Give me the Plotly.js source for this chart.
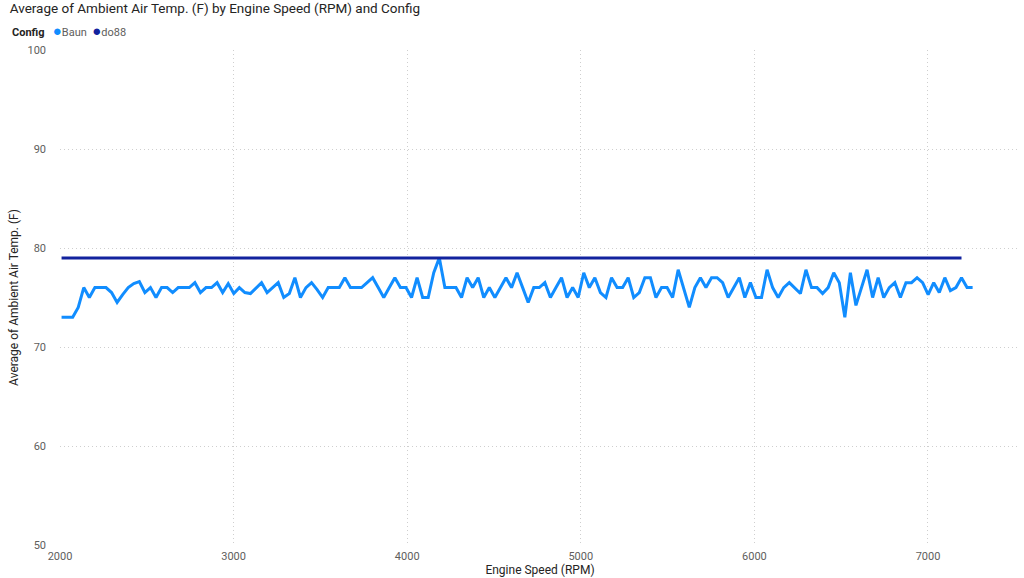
<!DOCTYPE html>
<html>
<head>
<meta charset="utf-8">
<script src="https://cdn.plot.ly/plotly-3.0.1.min.js"></script>
<style>
  html, body { margin: 0; padding: 0; background: #ffffff; }
  #chart { width: 1024px; height: 578px; }
</style>
</head>
<body>
<div id="chart"></div>
<script>
// Engine speed (RPM) for the Baun series
const baunRpm = [
  2009, 2041, 2073, 2105, 2137, 2169, 2201, 2233, 2265, 2297,
  2329, 2361, 2393, 2425, 2457, 2489, 2521, 2553, 2585, 2617,
  2649, 2681, 2713, 2745, 2777, 2809, 2841, 2873, 2905, 2937,
  2969, 3001, 3033, 3065, 3097, 3129, 3161, 3193, 3225, 3257,
  3289, 3321, 3353, 3385, 3417, 3449, 3481, 3513, 3545, 3577,
  3609, 3641, 3673, 3705, 3737, 3769, 3801, 3833, 3865, 3897,
  3929, 3961, 3993, 4025, 4057, 4089, 4121, 4153, 4185, 4217,
  4249, 4281, 4313, 4345, 4377, 4409, 4441, 4473, 4505, 4537,
  4569, 4601, 4633, 4665, 4697, 4729, 4761, 4793, 4825, 4857,
  4889, 4921, 4953, 4985, 5017, 5049, 5081, 5113, 5145, 5177,
  5209, 5241, 5273, 5305, 5337, 5369, 5401, 5433, 5465, 5497,
  5529, 5561, 5593, 5625, 5657, 5689, 5721, 5753, 5785, 5817,
  5849, 5881, 5913, 5945, 5977, 6009, 6041, 6073, 6105, 6137,
  6169, 6201, 6233, 6265, 6297, 6329, 6361, 6393, 6425, 6457,
  6489, 6521, 6553, 6585, 6617, 6649, 6681, 6713, 6745, 6777,
  6809, 6841, 6873, 6905, 6937, 6969, 7001, 7033, 7065, 7097,
  7129, 7161, 7193, 7225, 7257
];
// Average ambient air temp (F) for Baun
const baunTemp = [
  73, 73, 73, 74, 76, 75, 76, 76, 76, 75.5,
  74.5, 75.3, 76, 76.4, 76.6, 75.5, 76, 75, 76, 76,
  75.5, 76, 76, 76, 76.5, 75.5, 76, 76, 76.5, 75.5,
  76.4, 75.4, 76, 75.5, 75.4, 76, 76.5, 75.5, 76, 76.5,
  75, 75.4, 77, 75, 76, 76.5, 75.8, 75, 76, 76,
  76, 77, 76, 76, 76, 76.5, 77, 76, 75, 76,
  77, 76, 76, 75, 77, 75, 75, 77.5, 79, 76,
  76, 76, 75, 77, 76, 77, 75, 76, 75, 76,
  77, 76, 77.5, 76, 74.5, 76, 76, 76.5, 75, 76,
  77, 75, 76, 75, 77.5, 76, 77, 75.5, 75, 77,
  76, 76, 77, 75, 75.5, 77, 77, 75, 76, 76,
  75, 77.8, 76, 74, 76, 77, 76, 77, 77, 76.5,
  75, 76, 77, 75, 76.5, 75, 75, 77.8, 76, 75,
  76, 76.5, 76, 75.4, 77.8, 76, 76, 75.4, 76, 77.5,
  76.5, 73, 77.5, 74.2, 76, 77.8, 75, 77, 75, 76,
  76.5, 75, 76.5, 76.5, 77, 76.5, 75.3, 76.5, 75.5, 77,
  75.7, 76, 77, 76, 76
];
// do88 series (flat)
const do88Rpm = [2009, 7193];
const do88Temp = [79, 79];

const seriesNames = ["Baun", "do88"];
const seriesColors = ["#118DFF", "#12239E"];
const yTicks = [50, 60, 70, 80, 90, 100];
const xTicks = [2000, 3000, 4000, 5000, 6000, 7000];

const FONT = "Roboto, 'Open Sans', sans-serif";
const GREY = "#605E5C";
const DARK = "#252423";

const traces = [
  {
    x: baunRpm, y: baunTemp, name: seriesNames[0], type: "scatter", mode: "lines",
    line: { color: seriesColors[0], width: 3, shape: "linear" }, showlegend: false
  },
  {
    x: do88Rpm, y: do88Temp, name: seriesNames[1], type: "scatter", mode: "lines",
    line: { color: seriesColors[1], width: 3 }, showlegend: false
  }
];

const legendText = '<span style="color:' + DARK + '"><b>Config</b></span>   ' +
  '<span style="color:' + seriesColors[0] + ';font-size:15px">●</span>' + seriesNames[0] + '  ' +
  '<span style="color:' + seriesColors[1] + ';font-size:15px">●</span>' + seriesNames[1];

const layout = {
  width: 1024, height: 578,
  margin: { l: 60, r: 4, t: 50, b: 33 },
  paper_bgcolor: "#ffffff", plot_bgcolor: "#ffffff",
  font: { family: FONT, color: GREY, size: 11 },
  showlegend: false,
  title: {
    text: "Average of Ambient Air Temp. (F) by Engine Speed (RPM) and Config",
    x: 0.0095, xanchor: "left", y: 0.993, yanchor: "top",
    font: { family: FONT, size: 13.5, color: DARK }
  },
  annotations: [{
    text: legendText, xref: "paper", yref: "paper",
    x: -0.052, y: 1.038, xanchor: "left", yanchor: "middle", showarrow: false,
    font: { family: FONT, size: 11, color: GREY }
  }],
  xaxis: {
    range: [2000, 7530],
    tickvals: xTicks, ticktext: xTicks.map(String),
    showgrid: true, gridcolor: "#CFCFCF", griddash: "1px,3px", gridwidth: 1,
    zeroline: false, showline: false, ticks: "", ticklabelstandoff: 3,
    tickfont: { family: FONT, size: 11, color: GREY },
    title: { text: "Engine Speed (RPM)", font: { family: FONT, size: 12, color: DARK }, standoff: 2 }
  },
  yaxis: {
    range: [50, 100],
    tickvals: yTicks, ticktext: yTicks.map(String),
    showgrid: true, gridcolor: "#CFCFCF", griddash: "1px,3px", gridwidth: 1,
    zeroline: false, showline: false, ticks: "", ticklabelstandoff: 13,
    tickfont: { family: FONT, size: 11, color: GREY },
    title: { text: "Average of Ambient Air Temp. (F)", font: { family: FONT, size: 12, color: DARK }, standoff: 6 }
  }
};

Plotly.newPlot("chart", traces, layout, { displayModeBar: false, staticPlot: true });
</script>
</body>
</html>
